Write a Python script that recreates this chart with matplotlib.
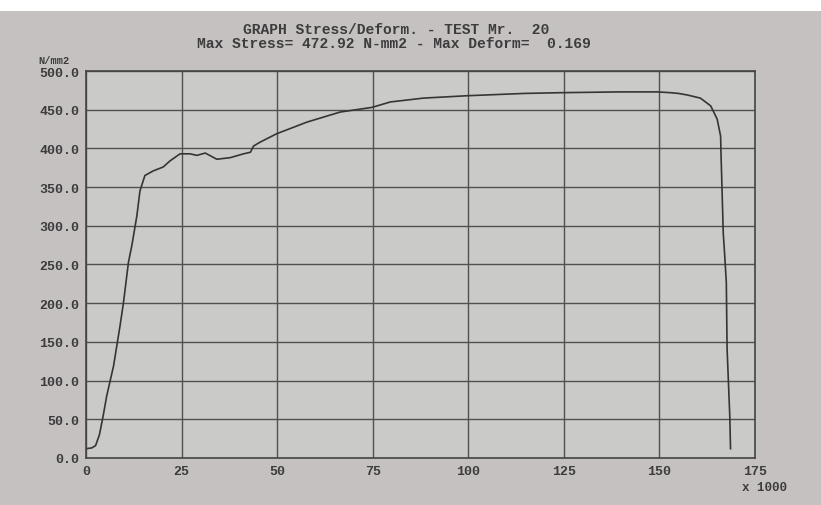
import numpy as np
import matplotlib.pyplot as plt

# deformation (x 1000) and stress (N/mm2)
deform = [0, 1.5, 2.5, 3.5, 4.5, 5.4, 7.2, 8.9, 9.8, 11.1, 12.0, 13.3, 14.1,
          15.4, 17.6, 20.2, 22.0, 24.6, 27.2, 29.0, 31.2, 34.2, 37.7, 41.2,
          43.0, 43.8, 45.5, 49.9, 57.8, 66.5, 74.8, 79.6, 88.3, 99.5, 114.5,
          124.3, 139.8, 149.4, 152.9, 155.0, 157.3, 160.7, 163.4, 165.1, 166.0,
          166.1, 166.4, 166.7, 167.0, 167.5, 167.7, 168.4, 168.6]
stress = [12, 13, 16, 30, 55, 80, 119, 171, 201, 253, 275, 313, 345,
          365, 371, 376, 384, 393, 393, 391, 394, 386, 388, 393,
          395, 403, 408, 419, 434, 447, 453, 460, 465, 468, 471,
          472, 473, 473, 472, 471, 469, 465, 455, 438, 416,
          395, 343, 290, 268, 227, 141, 55, 12]

x_ticks = [0, 25, 50, 75, 100, 125, 150, 175]
y_ticks = [0, 50, 100, 150, 200, 250, 300, 350, 400, 450, 500]

title1 = "GRAPH Stress/Deform. - TEST Mr.  20"
title2 = "Max Stress= 472.92 N-mm2 - Max Deform=  0.169"

ink = '#3c3c3c'
mono = ['Liberation Mono', 'DejaVu Sans Mono']

fig = plt.figure(figsize=(8.21, 5.06), dpi=100, facecolor='#c6c1c1')
ax = fig.add_axes([0.1048, 0.0929, 0.8148, 0.7648])
ax.set_facecolor('#cacbc8')

ax.plot(deform, stress, color='#353535', lw=1.2)

ax.set_xlim(0, 175)
ax.set_ylim(0, 500)
ax.set_xticks(x_ticks)
ax.set_yticks(y_ticks)
ax.set_xticklabels([str(v) for v in x_ticks], family=mono, fontsize=9.5,
                   fontweight='bold', color=ink)
ax.set_yticklabels(['%.1f' % v for v in y_ticks], family=mono, fontsize=9.5,
                   fontweight='bold', color=ink)
ax.tick_params(length=0, pad=5)
ax.grid(True, color='#505050', lw=1.0)
for s in ax.spines.values():
    s.set_color('#454545')
    s.set_linewidth(1.2)

fig.text(0.047, 0.880, 'N/mm2', family=mono, fontsize=7.5, fontweight='bold',
         color=ink, va='center')
fig.text(0.958, 0.036, 'x 1000', family=mono, fontsize=9, fontweight='bold',
         color=ink, ha='right', va='center')
fig.text(0.482, 0.941, title1, family=mono, fontsize=10.5, fontweight='bold',
         color=ink, ha='center', va='center')
fig.text(0.480, 0.913, title2, family=mono, fontsize=10.5, fontweight='bold',
         color=ink, ha='center', va='center')

# white strip at the top of the photo
fig.patches.append(plt.Rectangle((0, 0.976), 1, 0.024, transform=fig.transFigure,
                                 facecolor='white', edgecolor='none'))

fig.savefig('out.png', dpi=100, facecolor=fig.get_facecolor())
